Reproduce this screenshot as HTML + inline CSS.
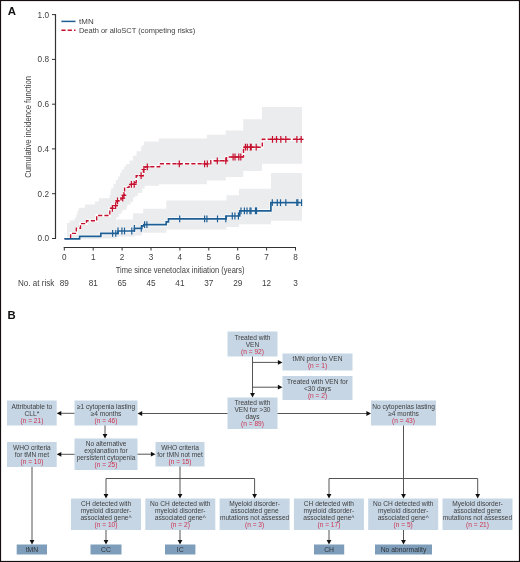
<!DOCTYPE html>
<html><head><meta charset="utf-8"><style>
html,body{margin:0;padding:0;background:#fff;}
.wrap{position:relative;width:520px;height:562px;overflow:hidden;}
svg{position:absolute;left:0;top:0;font-family:"Liberation Sans",sans-serif;will-change:transform;}
</style></head><body><div class="wrap">
<svg width="520" height="562" viewBox="0 0 520 562">
<rect x="0" y="0" width="520" height="562" fill="#fff"/>
<polygon points="67.0,238.5 67.0,223.1 69.7,223.1 69.7,220.4 74.5,220.4 74.5,218.0 76.2,218.0 76.2,214.6 77.5,214.6 77.5,211.0 78.5,211.0 78.5,208.5 79.3,208.5 79.3,207.7 85.1,207.7 85.1,204.6 95.1,204.6 95.1,201.5 98.9,201.5 98.9,198.3 109.5,198.3 109.5,195.1 110.5,195.1 110.5,191.0 111.2,191.0 111.2,188.2 113.5,188.2 113.5,184.0 115.8,184.0 115.8,180.1 118.0,180.1 118.0,176.5 120.0,176.5 120.0,173.0 121.6,173.0 121.6,169.7 124.0,169.7 124.0,166.5 126.2,166.5 126.2,163.9 129.7,163.9 129.7,160.4 133.1,160.4 133.1,155.8 136.6,155.8 136.6,151.2 141.2,151.2 141.2,146.6 142.7,146.6 142.7,145.0 144.2,145.0 144.2,141.6 158.8,141.6 158.8,138.5 206.9,138.5 206.9,134.8 225.7,134.8 225.7,130.5 243.2,130.5 243.2,119.2 262.0,119.2 262.0,107.1 302.0,107.1 302.0,107.1 302.0,163.7 302.0,163.7 302.0,163.7 262.0,163.7 262.0,171.0 243.2,171.0 243.2,177.1 225.7,177.1 225.7,180.6 206.9,180.6 206.9,184.2 158.8,184.2 158.8,185.8 144.6,185.8 144.6,188.4 142.3,188.4 142.3,193.0 137.7,193.0 137.7,196.3 135.0,196.3 135.0,197.6 133.1,197.6 133.1,201.9 130.6,201.9 130.6,204.5 127.3,204.5 127.3,206.9 126.3,206.9 126.3,210.0 122.5,210.0 122.5,211.4 121.5,211.4 121.5,213.8 118.8,213.8 118.8,217.3 116.3,217.3 116.3,238.5 67.0,238.5" fill="#ebecee"/>
<polygon points="67.0,240.0 67.0,238.0 116.3,238.0 116.3,219.4 133.1,219.4 133.1,213.2 143.2,213.2 143.2,208.8 166.3,208.8 166.3,200.6 226.5,200.6 226.5,195.2 239.0,195.2 239.0,188.7 271.0,188.7 271.0,173.0 302.0,173.0 302.0,173.0 302.0,220.8 302.0,220.8 302.0,220.8 271.0,220.8 271.0,224.3 239.0,224.3 239.0,227.0 226.5,227.0 226.5,229.6 166.5,229.6 166.5,232.8 141.8,232.8 141.8,235.6 134.4,235.6 134.4,236.8 118.0,236.8 118.0,237.6 100.8,237.6 100.8,239.2 79.6,239.2 79.6,240.0 67.0,240.0" fill="#ebecee"/>
<path d="M64.5,238.6 H70.6 V233.4 H76.3 V228.2 H80.5 V223.6 H86.5 V220.8 H96.7 V215.5 H109.8 V208.3 H113.8 V205.6 H116.8 V200.8 H121.0 V198.2 H123.5 V195.4 H124.6 V187.4 H129.0 V186.4 H131.0 V184.3 H134.8 V182.8 H136.2 V175.7 H143.4 V169.5 H145.0 V166.8 H159.7 V163.8 H210.8 V160.8 H226.5 V157.0 H243.5 V147.2 H262.3 V139.3 H302.0" fill="none" stroke="#fff" stroke-width="2.6"/>
<path d="M64.5,238.9 H79.6 V236.3 H100.8 V233.4 H118.0 V231.0 H134.4 V228.4 H141.8 V225.8 H143.8 V224.7 H166.2 V221.9 H168.5 V218.9 H226.2 V216.0 H239.7 V210.8 H270.9 V202.7 H302.0" fill="none" stroke="#fff" stroke-width="2.9"/>
<path d="M64.5,238.6 H70.6 V233.4 H76.3 V228.2 H80.5 V223.6 H86.5 V220.8 H96.7 V215.5 H109.8 V208.3 H113.8 V205.6 H116.8 V200.8 H121.0 V198.2 H123.5 V195.4 H124.6 V187.4 H129.0 V186.4 H131.0 V184.3 H134.8 V182.8 H136.2 V175.7 H143.4 V169.5 H145.0 V166.8 H159.7 V163.8 H210.8 V160.8 H226.5 V157.0 H243.5 V147.2 H262.3 V139.3 H302.0" fill="none" stroke="#c5112f" stroke-width="1.4" stroke-dasharray="4.2,2.1"/>
<path d="M64.5,238.9 H79.6 V236.3 H100.8 V233.4 H118.0 V231.0 H134.4 V228.4 H141.8 V225.8 H143.8 V224.7 H166.2 V221.9 H168.5 V218.9 H226.2 V216.0 H239.7 V210.8 H270.9 V202.7 H302.0" fill="none" stroke="#1d5e94" stroke-width="1.7"/>
<path d="M112.4,204.9 V211.7 M110.0,208.3 H114.8" stroke="#c5112f" stroke-width="1.2"/>
<path d="M115.6,202.2 V209.0 M113.2,205.6 H118.0" stroke="#c5112f" stroke-width="1.2"/>
<path d="M117.5,197.4 V204.2 M115.1,200.8 H119.9" stroke="#c5112f" stroke-width="1.2"/>
<path d="M122.7,194.8 V201.6 M120.3,198.2 H125.1" stroke="#c5112f" stroke-width="1.2"/>
<path d="M123.9,192.0 V198.8 M121.5,195.4 H126.3" stroke="#c5112f" stroke-width="1.2"/>
<path d="M131.4,180.9 V187.7 M129.0,184.3 H133.8" stroke="#c5112f" stroke-width="1.2"/>
<path d="M134.2,180.9 V187.7 M131.8,184.3 H136.6" stroke="#c5112f" stroke-width="1.2"/>
<path d="M141.1,172.3 V179.1 M138.7,175.7 H143.5" stroke="#c5112f" stroke-width="1.2"/>
<path d="M143.9,166.1 V172.9 M141.5,169.5 H146.3" stroke="#c5112f" stroke-width="1.2"/>
<path d="M147.3,163.4 V170.2 M144.9,166.8 H149.7" stroke="#c5112f" stroke-width="1.2"/>
<path d="M179.3,160.4 V167.2 M176.9,163.8 H181.7" stroke="#c5112f" stroke-width="1.2"/>
<path d="M204.6,160.4 V167.2 M202.2,163.8 H207.0" stroke="#c5112f" stroke-width="1.2"/>
<path d="M207.3,160.4 V167.2 M204.9,163.8 H209.7" stroke="#c5112f" stroke-width="1.2"/>
<path d="M217.3,157.4 V164.2 M214.9,160.8 H219.7" stroke="#c5112f" stroke-width="1.2"/>
<path d="M225.8,157.4 V164.2 M223.4,160.8 H228.2" stroke="#c5112f" stroke-width="1.2"/>
<path d="M233.1,153.6 V160.4 M230.7,157.0 H235.5" stroke="#c5112f" stroke-width="1.2"/>
<path d="M235,153.6 V160.4 M232.6,157.0 H237.4" stroke="#c5112f" stroke-width="1.2"/>
<path d="M238.8,153.6 V160.4 M236.4,157.0 H241.2" stroke="#c5112f" stroke-width="1.2"/>
<path d="M240.8,153.6 V160.4 M238.4,157.0 H243.2" stroke="#c5112f" stroke-width="1.2"/>
<path d="M245.4,143.8 V150.6 M243.0,147.2 H247.8" stroke="#c5112f" stroke-width="1.2"/>
<path d="M247.3,143.8 V150.6 M244.9,147.2 H249.7" stroke="#c5112f" stroke-width="1.2"/>
<path d="M250.4,143.8 V150.6 M248.0,147.2 H252.8" stroke="#c5112f" stroke-width="1.2"/>
<path d="M251.2,143.8 V150.6 M248.8,147.2 H253.6" stroke="#c5112f" stroke-width="1.2"/>
<path d="M256.2,143.8 V150.6 M253.8,147.2 H258.6" stroke="#c5112f" stroke-width="1.2"/>
<path d="M272.5,135.9 V142.7 M270.1,139.3 H274.9" stroke="#c5112f" stroke-width="1.2"/>
<path d="M276.5,135.9 V142.7 M274.1,139.3 H278.9" stroke="#c5112f" stroke-width="1.2"/>
<path d="M280.8,135.9 V142.7 M278.4,139.3 H283.2" stroke="#c5112f" stroke-width="1.2"/>
<path d="M285.8,135.9 V142.7 M283.4,139.3 H288.2" stroke="#c5112f" stroke-width="1.2"/>
<path d="M296.9,135.9 V142.7 M294.5,139.3 H299.3" stroke="#c5112f" stroke-width="1.2"/>
<path d="M301.2,135.9 V142.7 M298.8,139.3 H303.6" stroke="#c5112f" stroke-width="1.2"/>
<path d="M112.6,230.0 V236.8" stroke="#1d5e94" stroke-width="1.2"/>
<path d="M115.8,230.0 V236.8" stroke="#1d5e94" stroke-width="1.2"/>
<path d="M118,227.6 V234.4" stroke="#1d5e94" stroke-width="1.2"/>
<path d="M121.9,227.6 V234.4" stroke="#1d5e94" stroke-width="1.2"/>
<path d="M124.5,227.6 V234.4" stroke="#1d5e94" stroke-width="1.2"/>
<path d="M131.8,227.6 V234.4" stroke="#1d5e94" stroke-width="1.2"/>
<path d="M134.4,225.0 V231.8" stroke="#1d5e94" stroke-width="1.2"/>
<path d="M141.3,225.0 V231.8" stroke="#1d5e94" stroke-width="1.2"/>
<path d="M144.6,221.3 V228.1" stroke="#1d5e94" stroke-width="1.2"/>
<path d="M146.9,221.3 V228.1" stroke="#1d5e94" stroke-width="1.2"/>
<path d="M179.7,215.5 V222.3" stroke="#1d5e94" stroke-width="1.2"/>
<path d="M204.6,215.5 V222.3" stroke="#1d5e94" stroke-width="1.2"/>
<path d="M206.9,215.5 V222.3" stroke="#1d5e94" stroke-width="1.2"/>
<path d="M217.5,215.5 V222.3" stroke="#1d5e94" stroke-width="1.2"/>
<path d="M225.8,215.5 V222.3" stroke="#1d5e94" stroke-width="1.2"/>
<path d="M232.3,212.6 V219.4" stroke="#1d5e94" stroke-width="1.2"/>
<path d="M234.9,212.6 V219.4" stroke="#1d5e94" stroke-width="1.2"/>
<path d="M238.4,212.6 V219.4" stroke="#1d5e94" stroke-width="1.2"/>
<path d="M241,207.4 V214.2" stroke="#1d5e94" stroke-width="1.2"/>
<path d="M244.4,207.4 V214.2" stroke="#1d5e94" stroke-width="1.2"/>
<path d="M247,207.4 V214.2" stroke="#1d5e94" stroke-width="1.2"/>
<path d="M250,207.4 V214.2" stroke="#1d5e94" stroke-width="1.2"/>
<path d="M251,207.4 V214.2" stroke="#1d5e94" stroke-width="1.2"/>
<path d="M255.5,207.4 V214.2" stroke="#1d5e94" stroke-width="1.2"/>
<path d="M256.5,207.4 V214.2" stroke="#1d5e94" stroke-width="1.2"/>
<path d="M272.3,199.3 V206.1" stroke="#1d5e94" stroke-width="1.2"/>
<path d="M277.3,199.3 V206.1" stroke="#1d5e94" stroke-width="1.2"/>
<path d="M280.5,199.3 V206.1" stroke="#1d5e94" stroke-width="1.2"/>
<path d="M285.8,199.3 V206.1" stroke="#1d5e94" stroke-width="1.2"/>
<path d="M296.8,199.3 V206.1" stroke="#1d5e94" stroke-width="1.2"/>
<path d="M297.8,199.3 V206.1" stroke="#1d5e94" stroke-width="1.2"/>
<path d="M301.6,199.3 V206.1" stroke="#1d5e94" stroke-width="1.2"/>
<line x1="55.5" y1="14.6" x2="55.5" y2="238.6" stroke="#333333" stroke-width="1.2"/>
<line x1="52" y1="238.5" x2="56" y2="238.5" stroke="#333333" stroke-width="1"/>
<text x="49" y="241.4" font-size="8.2" text-anchor="end" fill="#404040">0.0</text>
<line x1="52" y1="193.7" x2="56" y2="193.7" stroke="#333333" stroke-width="1"/>
<text x="49" y="196.6" font-size="8.2" text-anchor="end" fill="#404040">0.2</text>
<line x1="52" y1="148.9" x2="56" y2="148.9" stroke="#333333" stroke-width="1"/>
<text x="49" y="151.8" font-size="8.2" text-anchor="end" fill="#404040">0.4</text>
<line x1="52" y1="104.2" x2="56" y2="104.2" stroke="#333333" stroke-width="1"/>
<text x="49" y="107.1" font-size="8.2" text-anchor="end" fill="#404040">0.6</text>
<line x1="52" y1="59.4" x2="56" y2="59.4" stroke="#333333" stroke-width="1"/>
<text x="49" y="62.3" font-size="8.2" text-anchor="end" fill="#404040">0.8</text>
<line x1="52" y1="14.6" x2="56" y2="14.6" stroke="#333333" stroke-width="1"/>
<text x="49" y="17.5" font-size="8.2" text-anchor="end" fill="#404040">1.0</text>
<line x1="63.8" y1="247.5" x2="296" y2="247.5" stroke="#333333" stroke-width="1.2"/>
<line x1="64.3" y1="247" x2="64.3" y2="250.5" stroke="#333333" stroke-width="1"/>
<text x="64.3" y="259.8" font-size="8.2" text-anchor="middle" fill="#404040">0</text>
<text x="64.3" y="285.6" font-size="8.2" text-anchor="middle" fill="#404040">89</text>
<line x1="93.2" y1="247" x2="93.2" y2="250.5" stroke="#333333" stroke-width="1"/>
<text x="93.2" y="259.8" font-size="8.2" text-anchor="middle" fill="#404040">1</text>
<text x="93.2" y="285.6" font-size="8.2" text-anchor="middle" fill="#404040">81</text>
<line x1="122.1" y1="247" x2="122.1" y2="250.5" stroke="#333333" stroke-width="1"/>
<text x="122.1" y="259.8" font-size="8.2" text-anchor="middle" fill="#404040">2</text>
<text x="122.1" y="285.6" font-size="8.2" text-anchor="middle" fill="#404040">65</text>
<line x1="151.0" y1="247" x2="151.0" y2="250.5" stroke="#333333" stroke-width="1"/>
<text x="151.0" y="259.8" font-size="8.2" text-anchor="middle" fill="#404040">3</text>
<text x="151.0" y="285.6" font-size="8.2" text-anchor="middle" fill="#404040">45</text>
<line x1="179.9" y1="247" x2="179.9" y2="250.5" stroke="#333333" stroke-width="1"/>
<text x="179.9" y="259.8" font-size="8.2" text-anchor="middle" fill="#404040">4</text>
<text x="179.9" y="285.6" font-size="8.2" text-anchor="middle" fill="#404040">41</text>
<line x1="208.8" y1="247" x2="208.8" y2="250.5" stroke="#333333" stroke-width="1"/>
<text x="208.8" y="259.8" font-size="8.2" text-anchor="middle" fill="#404040">5</text>
<text x="208.8" y="285.6" font-size="8.2" text-anchor="middle" fill="#404040">37</text>
<line x1="237.7" y1="247" x2="237.7" y2="250.5" stroke="#333333" stroke-width="1"/>
<text x="237.7" y="259.8" font-size="8.2" text-anchor="middle" fill="#404040">6</text>
<text x="237.7" y="285.6" font-size="8.2" text-anchor="middle" fill="#404040">29</text>
<line x1="266.6" y1="247" x2="266.6" y2="250.5" stroke="#333333" stroke-width="1"/>
<text x="266.6" y="259.8" font-size="8.2" text-anchor="middle" fill="#404040">7</text>
<text x="266.6" y="285.6" font-size="8.2" text-anchor="middle" fill="#404040">12</text>
<line x1="295.5" y1="247" x2="295.5" y2="250.5" stroke="#333333" stroke-width="1"/>
<text x="295.5" y="259.8" font-size="8.2" text-anchor="middle" fill="#404040">8</text>
<text x="295.5" y="285.6" font-size="8.2" text-anchor="middle" fill="#404040">3</text>
<text x="115.8" y="273" font-size="9.5" textLength="128.8" lengthAdjust="spacingAndGlyphs" fill="#404040">Time since venetoclax initiation (years)</text>
<text x="18" y="285.5" font-size="8.2" textLength="36.3" lengthAdjust="spacingAndGlyphs" fill="#404040">No. at risk</text>
<text transform="translate(31.4,177.7) rotate(-90)" font-size="9.8" textLength="101.6" lengthAdjust="spacingAndGlyphs" fill="#404040">Cumulative incidence function</text>
<line x1="61.4" y1="21.4" x2="75.5" y2="21.4" stroke="#1d5e94" stroke-width="1.5"/>
<line x1="61.4" y1="30.2" x2="75.5" y2="30.2" stroke="#c5112f" stroke-width="1.4" stroke-dasharray="4.2,2.1"/>
<text x="79.1" y="23.9" font-size="7.4" textLength="14.6" lengthAdjust="spacingAndGlyphs" fill="#404040">tMN</text>
<text x="78.9" y="32.5" font-size="7.3" textLength="116.4" lengthAdjust="spacingAndGlyphs" fill="#404040">Death or alloSCT (competing risks)</text>
<text x="7.7" y="15" font-size="11.4" font-weight="bold" fill="#111">A</text>
<text x="7.6" y="318.8" font-size="11.3" font-weight="bold" fill="#111">B</text>
<rect x="227.5" y="331.5" width="50.0" height="25.0" fill="#c6d6e5"/>
<text x="252.5" y="339.8" font-size="6.6" text-anchor="middle" fill="#404040">Treated with</text>
<text x="252.5" y="346.8" font-size="6.6" text-anchor="middle" fill="#404040">VEN</text>
<text x="252.5" y="353.8" font-size="6.6" text-anchor="middle" fill="#cf3350">(n = 92)</text>
<rect x="282.5" y="353.5" width="70.0" height="17.0" fill="#c6d6e5"/>
<text x="317.5" y="361.3" font-size="6.6" text-anchor="middle" fill="#404040">tMN prior to VEN</text>
<text x="317.5" y="368.3" font-size="6.6" text-anchor="middle" fill="#cf3350">(n = 1)</text>
<rect x="282.5" y="376" width="70.0" height="24.0" fill="#c6d6e5"/>
<text x="317.5" y="383.8" font-size="6.6" text-anchor="middle" fill="#404040">Treated with VEN for</text>
<text x="317.5" y="390.8" font-size="6.6" text-anchor="middle" fill="#404040">&lt;30 days</text>
<text x="317.5" y="397.8" font-size="6.6" text-anchor="middle" fill="#cf3350">(n = 2)</text>
<rect x="227.5" y="397.5" width="50.0" height="31.5" fill="#c6d6e5"/>
<text x="252.5" y="404.8" font-size="6.6" text-anchor="middle" fill="#404040">Treated with</text>
<text x="252.5" y="411.8" font-size="6.6" text-anchor="middle" fill="#404040">VEN for &gt;30</text>
<text x="252.5" y="418.8" font-size="6.6" text-anchor="middle" fill="#404040">days</text>
<text x="252.5" y="425.8" font-size="6.6" text-anchor="middle" fill="#cf3350">(n = 89)</text>
<rect x="7" y="400.5" width="49.7" height="25.0" fill="#c6d6e5"/>
<text x="31.9" y="408.8" font-size="6.6" text-anchor="middle" fill="#404040">Attributable to</text>
<text x="31.9" y="415.8" font-size="6.6" text-anchor="middle" fill="#404040">CLL*</text>
<text x="31.9" y="422.8" font-size="6.6" text-anchor="middle" fill="#cf3350">(n = 21)</text>
<rect x="74.5" y="400.5" width="63.0" height="25.0" fill="#c6d6e5"/>
<text x="106.0" y="408.8" font-size="6.6" text-anchor="middle" fill="#404040">≥1 cytopenia lasting</text>
<text x="106.0" y="415.8" font-size="6.6" text-anchor="middle" fill="#404040">≥4 months</text>
<text x="106.0" y="422.8" font-size="6.6" text-anchor="middle" fill="#cf3350">(n = 46)</text>
<rect x="371" y="400.5" width="65.0" height="25.0" fill="#c6d6e5"/>
<text x="403.5" y="408.8" font-size="6.6" text-anchor="middle" fill="#404040">No cytopenias lasting</text>
<text x="403.5" y="415.8" font-size="6.6" text-anchor="middle" fill="#404040">≥4 months</text>
<text x="403.5" y="422.8" font-size="6.6" text-anchor="middle" fill="#cf3350">(n = 43)</text>
<rect x="7" y="442" width="49.7" height="25.0" fill="#c6d6e5"/>
<text x="31.9" y="450.3" font-size="6.6" text-anchor="middle" fill="#404040">WHO criteria</text>
<text x="31.9" y="457.3" font-size="6.6" text-anchor="middle" fill="#404040">for tMN met</text>
<text x="31.9" y="464.3" font-size="6.6" text-anchor="middle" fill="#cf3350">(n = 10)</text>
<rect x="74.5" y="438.5" width="63.0" height="31.5" fill="#c6d6e5"/>
<text x="106.0" y="445.8" font-size="6.6" text-anchor="middle" fill="#404040">No alternative</text>
<text x="106.0" y="452.8" font-size="6.6" text-anchor="middle" fill="#404040">explanation for</text>
<text x="106.0" y="459.8" font-size="6.6" text-anchor="middle" fill="#404040">persistent cytopenia</text>
<text x="106.0" y="466.8" font-size="6.6" text-anchor="middle" fill="#cf3350">(n = 25)</text>
<rect x="155.5" y="442" width="49.0" height="24.5" fill="#c6d6e5"/>
<text x="180.0" y="450.0" font-size="6.6" text-anchor="middle" fill="#404040">WHO criteria</text>
<text x="180.0" y="457.0" font-size="6.6" text-anchor="middle" fill="#404040">for tMN not met</text>
<text x="180.0" y="464.0" font-size="6.6" text-anchor="middle" fill="#cf3350">(n = 15)</text>
<rect x="71" y="498.5" width="70.0" height="31.5" fill="#c6d6e5"/>
<text x="106.0" y="505.8" font-size="6.6" text-anchor="middle" fill="#404040">CH detected with</text>
<text x="106.0" y="512.8" font-size="6.6" text-anchor="middle" fill="#404040">myeloid disorder-</text>
<text x="106.0" y="519.8" font-size="6.6" text-anchor="middle" fill="#404040">associated gene^</text>
<text x="106.0" y="526.8" font-size="6.6" text-anchor="middle" fill="#cf3350">(n = 10)</text>
<rect x="145.3" y="498.5" width="70.0" height="31.5" fill="#c6d6e5"/>
<text x="180.3" y="505.8" font-size="6.6" text-anchor="middle" fill="#404040">No CH detected with</text>
<text x="180.3" y="512.8" font-size="6.6" text-anchor="middle" fill="#404040">myeloid disorder-</text>
<text x="180.3" y="519.8" font-size="6.6" text-anchor="middle" fill="#404040">associated gene^</text>
<text x="180.3" y="526.8" font-size="6.6" text-anchor="middle" fill="#cf3350">(n = 2)</text>
<rect x="219.6" y="498.5" width="70.0" height="31.5" fill="#c6d6e5"/>
<text x="254.6" y="505.8" font-size="6.6" text-anchor="middle" fill="#404040">Myeloid disorder-</text>
<text x="254.6" y="512.8" font-size="6.6" text-anchor="middle" fill="#404040">associated gene</text>
<text x="254.6" y="519.8" font-size="6.6" text-anchor="middle" fill="#404040">mutations not assessed</text>
<text x="254.6" y="526.8" font-size="6.6" text-anchor="middle" fill="#cf3350">(n = 3)</text>
<rect x="293.9" y="498.5" width="70.0" height="31.5" fill="#c6d6e5"/>
<text x="328.9" y="505.8" font-size="6.6" text-anchor="middle" fill="#404040">CH detected with</text>
<text x="328.9" y="512.8" font-size="6.6" text-anchor="middle" fill="#404040">myeloid disorder-</text>
<text x="328.9" y="519.8" font-size="6.6" text-anchor="middle" fill="#404040">associated gene^</text>
<text x="328.9" y="526.8" font-size="6.6" text-anchor="middle" fill="#cf3350">(n = 17)</text>
<rect x="368.2" y="498.5" width="70.0" height="31.5" fill="#c6d6e5"/>
<text x="403.2" y="505.8" font-size="6.6" text-anchor="middle" fill="#404040">No CH detected with</text>
<text x="403.2" y="512.8" font-size="6.6" text-anchor="middle" fill="#404040">myeloid disorder-</text>
<text x="403.2" y="519.8" font-size="6.6" text-anchor="middle" fill="#404040">associated gene^</text>
<text x="403.2" y="526.8" font-size="6.6" text-anchor="middle" fill="#cf3350">(n = 5)</text>
<rect x="442.5" y="498.5" width="70.0" height="31.5" fill="#c6d6e5"/>
<text x="477.5" y="505.8" font-size="6.6" text-anchor="middle" fill="#404040">Myeloid disorder-</text>
<text x="477.5" y="512.8" font-size="6.6" text-anchor="middle" fill="#404040">associated gene</text>
<text x="477.5" y="519.8" font-size="6.6" text-anchor="middle" fill="#404040">mutations not assessed</text>
<text x="477.5" y="526.8" font-size="6.6" text-anchor="middle" fill="#cf3350">(n = 21)</text>
<rect x="16.7" y="544.5" width="30.3" height="10.0" fill="#7d9dbb"/>
<text x="31.9" y="551.7" font-size="6.8" text-anchor="middle" fill="#303336">tMN</text>
<rect x="90.5" y="544.5" width="31.0" height="10.0" fill="#7d9dbb"/>
<text x="106.0" y="551.7" font-size="6.8" text-anchor="middle" fill="#303336">CC</text>
<rect x="165" y="544.5" width="30.4" height="10.0" fill="#7d9dbb"/>
<text x="180.2" y="551.7" font-size="6.8" text-anchor="middle" fill="#303336">IC</text>
<rect x="314" y="544.5" width="30.2" height="10.0" fill="#7d9dbb"/>
<text x="329.1" y="551.7" font-size="6.8" text-anchor="middle" fill="#303336">CH</text>
<rect x="375" y="544.5" width="57.0" height="10.0" fill="#7d9dbb"/>
<text x="403.5" y="551.7" font-size="6.8" text-anchor="middle" fill="#303336">No abnormality</text>
<line x1="252.5" y1="356.5" x2="252.5" y2="393" stroke="#555555" stroke-width="1"/>
<polygon points="250.1,392.9 254.9,392.9 252.5,397.5" fill="#111"/>
<line x1="252.5" y1="362.4" x2="279" y2="362.4" stroke="#555555" stroke-width="1"/>
<polygon points="277.9,360.0 277.9,364.8 282.5,362.4" fill="#111"/>
<line x1="252.5" y1="387.2" x2="279" y2="387.2" stroke="#555555" stroke-width="1"/>
<polygon points="277.9,384.8 277.9,389.6 282.5,387.2" fill="#111"/>
<line x1="227.5" y1="413.5" x2="141" y2="413.5" stroke="#555555" stroke-width="1"/>
<polygon points="142.2,411.1 142.2,415.9 137.6,413.5" fill="#111"/>
<line x1="277.5" y1="413.5" x2="367" y2="413.5" stroke="#555555" stroke-width="1"/>
<polygon points="366.4,411.1 366.4,415.9 371.0,413.5" fill="#111"/>
<line x1="74.5" y1="413.3" x2="61" y2="413.3" stroke="#555555" stroke-width="1"/>
<polygon points="61.3,410.9 61.3,415.7 56.7,413.3" fill="#111"/>
<line x1="105" y1="425.5" x2="105" y2="434" stroke="#555555" stroke-width="1"/>
<polygon points="102.6,433.9 107.4,433.9 105.0,438.5" fill="#111"/>
<line x1="74.5" y1="454.3" x2="61" y2="454.3" stroke="#555555" stroke-width="1"/>
<polygon points="61.3,451.9 61.3,456.7 56.7,454.3" fill="#111"/>
<line x1="137.5" y1="454.2" x2="151" y2="454.2" stroke="#555555" stroke-width="1"/>
<polygon points="150.9,451.8 150.9,456.6 155.5,454.2" fill="#111"/>
<line x1="32" y1="467" x2="32" y2="540" stroke="#555555" stroke-width="1"/>
<polygon points="29.6,539.9 34.4,539.9 32.0,544.5" fill="#111"/>
<line x1="180" y1="466.5" x2="180" y2="478.5" stroke="#555555" stroke-width="1"/>
<line x1="106" y1="478.5" x2="254.6" y2="478.5" stroke="#555555" stroke-width="1"/>
<line x1="106" y1="478.5" x2="106" y2="494" stroke="#555555" stroke-width="1"/>
<polygon points="103.6,493.9 108.4,493.9 106.0,498.5" fill="#111"/>
<line x1="180" y1="478.5" x2="180" y2="494" stroke="#555555" stroke-width="1"/>
<polygon points="177.6,493.9 182.4,493.9 180.0,498.5" fill="#111"/>
<line x1="254.6" y1="478.5" x2="254.6" y2="494" stroke="#555555" stroke-width="1"/>
<polygon points="252.2,493.9 257.0,493.9 254.6,498.5" fill="#111"/>
<line x1="329" y1="478.5" x2="329" y2="494" stroke="#555555" stroke-width="1"/>
<polygon points="326.6,493.9 331.4,493.9 329.0,498.5" fill="#111"/>
<line x1="403.5" y1="478.5" x2="403.5" y2="494" stroke="#555555" stroke-width="1"/>
<polygon points="401.1,493.9 405.9,493.9 403.5,498.5" fill="#111"/>
<line x1="477.7" y1="478.5" x2="477.7" y2="494" stroke="#555555" stroke-width="1"/>
<polygon points="475.3,493.9 480.1,493.9 477.7,498.5" fill="#111"/>
<line x1="403.5" y1="425.5" x2="403.5" y2="478.5" stroke="#555555" stroke-width="1"/>
<line x1="329" y1="478.5" x2="477.7" y2="478.5" stroke="#555555" stroke-width="1"/>
<line x1="106" y1="530" x2="106" y2="540" stroke="#555555" stroke-width="1"/>
<polygon points="103.6,539.9 108.4,539.9 106.0,544.5" fill="#111"/>
<line x1="180" y1="530" x2="180" y2="540" stroke="#555555" stroke-width="1"/>
<polygon points="177.6,539.9 182.4,539.9 180.0,544.5" fill="#111"/>
<line x1="329" y1="530" x2="329" y2="540" stroke="#555555" stroke-width="1"/>
<polygon points="326.6,539.9 331.4,539.9 329.0,544.5" fill="#111"/>
<line x1="403.5" y1="530" x2="403.5" y2="540" stroke="#555555" stroke-width="1"/>
<polygon points="401.1,539.9 405.9,539.9 403.5,544.5" fill="#111"/>
<rect x="0.5" y="0.5" width="519" height="561" fill="none" stroke="#150f11" stroke-width="1.2"/>
</svg></div></body></html>
